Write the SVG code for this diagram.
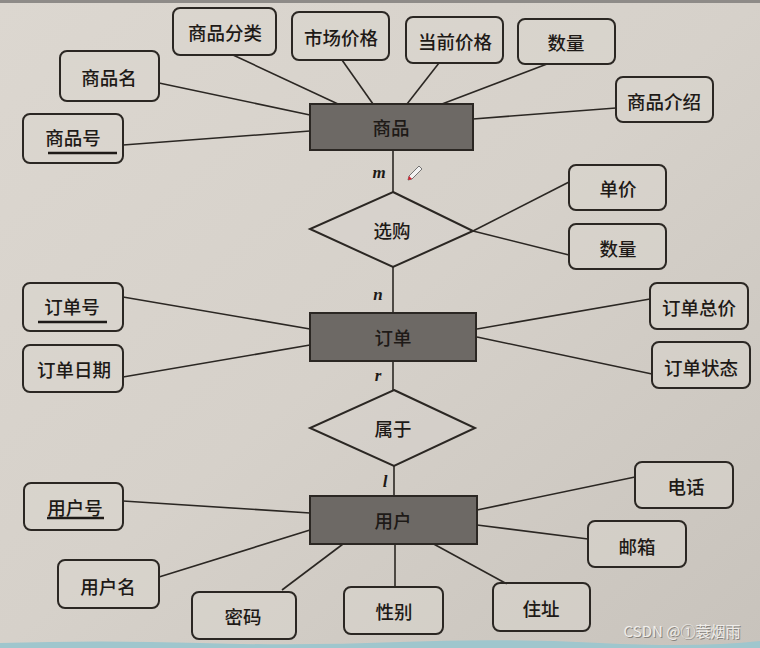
<svg xmlns="http://www.w3.org/2000/svg" width="760" height="648" viewBox="0 0 760 648">
<defs>
<linearGradient id="bg" x1="0" y1="0" x2="1" y2="1">
<stop offset="0" stop-color="#dcd7d0"/>
<stop offset="0.5" stop-color="#d6d1ca"/>
<stop offset="1" stop-color="#c8c3bc"/>
</linearGradient>
<style>
.attr{fill:#dad5ce;fill-opacity:0.5;stroke:#2b2723;stroke-width:2}
.ent{fill:#6d6965;stroke:#2b2723;stroke-width:2}
.rel{fill:#d8d3cc;fill-opacity:0.4;stroke:#2b2723;stroke-width:2}
.t{font-family:"Noto Sans CJK SC","Noto Sans",sans-serif;font-size:18.5px;font-weight:500;fill:#1e1a17;text-anchor:middle;dominant-baseline:central}
.c{font-family:"Liberation Serif",serif;font-style:italic;font-weight:bold;font-size:17px;fill:#1e1a17;text-anchor:middle}
.ul{stroke:#1e1a17;stroke-width:2.5}
#connectors line{stroke:#2b2723;stroke-width:1.6}
</style>
</defs>
<rect width="760" height="648" fill="url(#bg)"/>
<rect width="760" height="3" fill="#8e8b88"/>
<path d="M0 643 Q100 640 200 643 T400 642 T600 643 T760 641 V648 H0 Z" fill="#9fc6cd"/>

<g id="connectors">
<line x1="159" y1="83" x2="310" y2="115"/>
<line x1="123" y1="145" x2="310" y2="131"/>
<line x1="233" y1="55" x2="338" y2="104"/>
<line x1="342" y1="60" x2="373" y2="104"/>
<line x1="439" y1="63" x2="407" y2="104"/>
<line x1="547" y1="64" x2="442" y2="104"/>
<line x1="616" y1="108" x2="473" y2="119"/>
<line x1="393" y1="150" x2="393" y2="192"/>
<line x1="569" y1="182" x2="473" y2="231"/>
<line x1="569" y1="255" x2="473" y2="231"/>
<line x1="393" y1="267" x2="393" y2="313"/>
<line x1="123" y1="297" x2="310" y2="329"/>
<line x1="123" y1="377" x2="310" y2="345"/>
<line x1="477" y1="329" x2="650" y2="299"/>
<line x1="477" y1="337" x2="652" y2="374"/>
<line x1="393" y1="361" x2="393" y2="390"/>
<line x1="394" y1="466" x2="394" y2="496"/>
<line x1="123" y1="501" x2="310" y2="513"/>
<line x1="159" y1="577" x2="310" y2="530"/>
<line x1="282" y1="590" x2="343" y2="544"/>
<line x1="395" y1="544" x2="395" y2="587"/>
<line x1="507" y1="584" x2="430" y2="542"/>
<line x1="588" y1="539" x2="477" y2="525"/>
<line x1="635" y1="477" x2="477" y2="510"/>
</g>

<g id="e-shangpin"><rect class="ent" x="310" y="104" width="163" height="46"/><text class="t" x="391" y="127">商品</text></g>
<g id="e-dingdan"><rect class="ent" x="310" y="313" width="166" height="48"/><text class="t" x="393" y="337">订单</text></g>
<g id="e-yonghu"><rect class="ent" x="310" y="496" width="167" height="48"/><text class="t" x="393" y="520">用户</text></g>

<g id="r-xuangou"><polygon class="rel" points="393,192 473,231 393,267 310,229"/><text class="t" x="392" y="230">选购</text></g>
<g id="r-shuyu"><polygon class="rel" points="394,390 475,428 394,466 310,428"/><text class="t" x="393" y="428">属于</text></g>

<g id="a-spfl"><rect class="attr" x="173" y="8" width="103" height="47" rx="7"/><text class="t" x="225" y="32">商品分类</text></g>
<g id="a-scjg"><rect class="attr" x="292" y="12" width="97" height="48" rx="7"/><text class="t" x="341" y="37">市场价格</text></g>
<g id="a-dqjg"><rect class="attr" x="406" y="17" width="97" height="46" rx="7"/><text class="t" x="455" y="41">当前价格</text></g>
<g id="a-sl1"><rect class="attr" x="518" y="19" width="97" height="45" rx="7"/><text class="t" x="566" y="42">数量</text></g>
<g id="a-spm"><rect class="attr" x="60" y="51" width="99" height="50" rx="7"/><text class="t" x="109" y="77">商品名</text></g>
<g id="a-spjs"><rect class="attr" x="616" y="77" width="97" height="45" rx="7"/><text class="t" x="664" y="101">商品介绍</text></g>
<g id="a-sph"><rect class="attr" x="23" y="114" width="100" height="49" rx="7"/><text class="t" x="73" y="137">商品号</text><line class="ul" x1="48" y1="153" x2="117" y2="153"/></g>

<g id="a-dj"><rect class="attr" x="569" y="165" width="97" height="45" rx="7"/><text class="t" x="618" y="188">单价</text></g>
<g id="a-sl2"><rect class="attr" x="569" y="224" width="97" height="45" rx="7"/><text class="t" x="618" y="248">数量</text></g>

<g id="a-ddh"><rect class="attr" x="23" y="283" width="100" height="48" rx="7"/><text class="t" x="72" y="306">订单号</text><line class="ul" x1="38" y1="322" x2="107" y2="322"/></g>
<g id="a-ddrq"><rect class="attr" x="23" y="345" width="100" height="47" rx="7"/><text class="t" x="74" y="369">订单日期</text></g>
<g id="a-ddzj"><rect class="attr" x="650" y="283" width="98" height="46" rx="7"/><text class="t" x="699" y="307">订单总价</text></g>
<g id="a-ddzt"><rect class="attr" x="652" y="342" width="98" height="46" rx="7"/><text class="t" x="701" y="367">订单状态</text></g>

<g id="a-yhh"><rect class="attr" x="24" y="483" width="99" height="47" rx="7"/><text class="t" x="75" y="507">用户号</text><line class="ul" x1="47" y1="518" x2="104" y2="518"/></g>
<g id="a-yhm"><rect class="attr" x="58" y="560" width="101" height="48" rx="7"/><text class="t" x="108" y="586">用户名</text></g>
<g id="a-mm"><rect class="attr" x="192" y="592" width="104" height="47" rx="7"/><text class="t" x="243" y="616">密码</text></g>
<g id="a-xb"><rect class="attr" x="344" y="587" width="99" height="47" rx="7"/><text class="t" x="394" y="611">性别</text></g>
<g id="a-zz"><rect class="attr" x="493" y="583" width="97" height="48" rx="7"/><text class="t" x="541" y="608">住址</text></g>
<g id="a-yx"><rect class="attr" x="588" y="521" width="98" height="46" rx="7"/><text class="t" x="637" y="546">邮箱</text></g>
<g id="a-dh"><rect class="attr" x="635" y="462" width="98" height="46" rx="7"/><text class="t" x="686" y="486">电话</text></g>

<g id="cardinalities">
<text class="c" x="379" y="178">m</text>
<text class="c" x="378" y="300">n</text>
<text class="c" x="378" y="381">r</text>
<text class="c" x="385" y="487">l</text>
</g>

<g id="cursor">
<path d="M419 166 L422 169 L412 179 L408 180 L409 176 Z" fill="#f2f2f2" stroke="#555" stroke-width="0.8"/>
<path d="M409 176 L412 179 L408 180 Z" fill="#d81e2c"/>
</g>

<text x="682" y="637" font-family="&quot;Noto Sans CJK SC&quot;,&quot;Liberation Sans&quot;,sans-serif" font-size="15" fill="#5c5955" text-anchor="middle" opacity="0.6" transform="translate(1,1)">CSDN @①蓑烟雨</text>
<text x="682" y="637" font-family="&quot;Noto Sans CJK SC&quot;,&quot;Liberation Sans&quot;,sans-serif" font-size="15" fill="#efedea" text-anchor="middle">CSDN @①蓑烟雨</text>
</svg>
